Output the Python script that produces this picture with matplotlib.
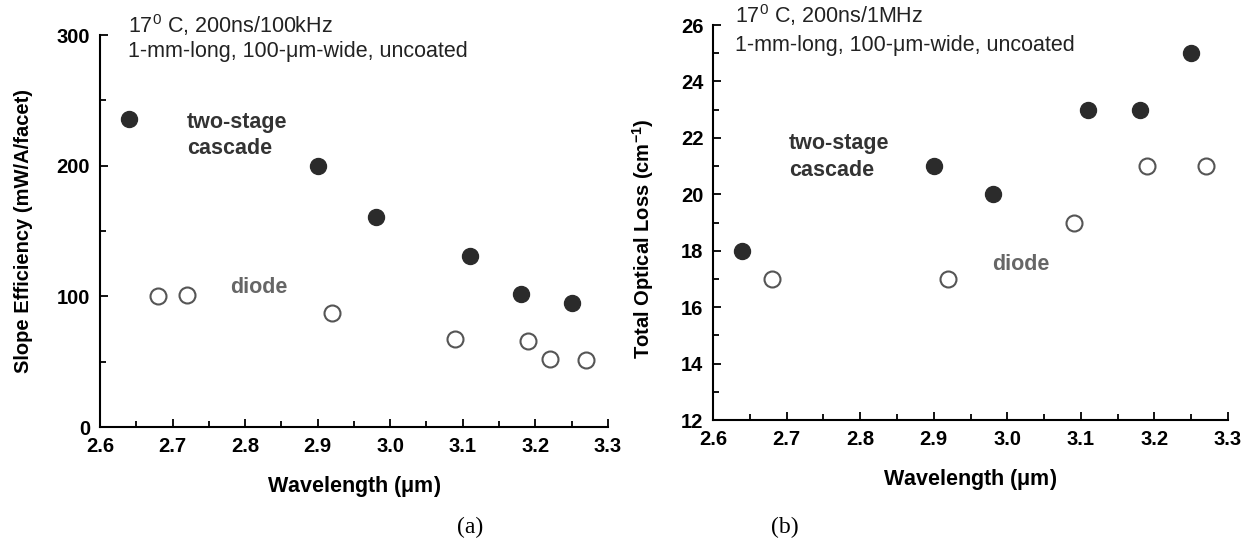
"""Slope efficiency and optical loss vs wavelength, cascade vs diode."""

import matplotlib
matplotlib.use("Agg")
import matplotlib.pyplot as plt
from matplotlib.ticker import MultipleLocator

plt.rcParams["font.family"] = ["Liberation Sans", "DejaVu Sans"]
plt.rcParams["mathtext.fontset"] = "custom"
plt.rcParams["mathtext.rm"] = "Liberation Sans"
plt.rcParams["mathtext.bf"] = "Liberation Sans:bold"

# panel (a): slope efficiency (mW/A/facet)
wl_cascade_a = [2.64, 2.90, 2.98, 3.11, 3.18, 3.25]
se_cascade = [236, 200, 161, 131, 102, 95]
wl_diode_a = [2.68, 2.72, 2.92, 3.09, 3.19, 3.22, 3.27]
se_diode = [100, 101, 87, 67, 66, 52, 51]

# panel (b): total optical loss (cm^-1)
wl_cascade_b = [2.64, 2.90, 2.98, 3.11, 3.18, 3.25]
loss_cascade = [18, 21, 20, 23, 23, 25]
wl_diode_b = [2.68, 2.92, 3.09, 3.19, 3.27]
loss_diode = [17, 17, 19, 21, 21]

FILL = "#2b2b2b"
OPEN = "#555555"


def style_axes(ax, ymaj, ymin):
    for s in ("top", "right"):
        ax.spines[s].set_visible(False)
    for s in ("left", "bottom"):
        ax.spines[s].set_linewidth(1.5)
    ax.xaxis.set_major_locator(MultipleLocator(0.1))
    ax.xaxis.set_minor_locator(MultipleLocator(0.05))
    ax.yaxis.set_major_locator(MultipleLocator(ymaj))
    ax.yaxis.set_minor_locator(MultipleLocator(ymin))
    ax.tick_params(which="both", direction="in", width=1.3, labelsize=14.5)
    ax.tick_params(axis="x", which="major", pad=7.5)
    ax.tick_params(axis="y", which="major", pad=7)
    ax.tick_params(which="major", length=6)
    ax.tick_params(which="minor", length=4)
    for lab in ax.get_xticklabels() + ax.get_yticklabels():
        lab.set_fontweight("bold")
    ax.set_xlim(2.6, 3.3)
    ax.xaxis.set_major_formatter(plt.FuncFormatter(lambda v, p: f"{v:.1f}"))


def scatter(ax, x1, y1, x2, y2):
    ax.plot(x1, y1, "o", ms=11.5, mfc=FILL, mec=FILL, ls="none", clip_on=False)
    ax.plot(x2, y2, "o", ms=11.5, mfc="white", mec=OPEN, mew=1.5, ls="none",
            clip_on=False)


fig = plt.figure(figsize=(12.51, 5.52), dpi=100)
ax1 = fig.add_axes([0.0799, 0.2264, 0.406, 0.710])
ax2 = fig.add_axes([0.570, 0.2391, 0.4116, 0.7156])

# --- (a) ---
scatter(ax1, wl_cascade_a, se_cascade, wl_diode_a, se_diode)
ax1.set_ylim(0, 300)
style_axes(ax1, 100, 50)
ax1.yaxis.set_major_formatter(plt.FuncFormatter(lambda v, p: f"{v:.0f}"))
ax1.set_ylabel("Slope Efficiency (mW/A/facet)", fontsize=14.5, fontweight="bold")
ax1.yaxis.set_label_coords(-0.131, 0.5)
ax1.set_xlabel("Wavelength ($\\mathbf{\\mu}$m)", fontsize=15.5, fontweight="bold",
               labelpad=13)
ax1.text(0.055, 1.025, "17$^{0}$ C, 200ns/100kHz", transform=ax1.transAxes,
         fontsize=15.5, va="center", color="#222222")
ax1.text(0.055, 0.957, "1-mm-long, 100-μm-wide, uncoated", transform=ax1.transAxes,
         fontsize=15.5, va="center", color="#222222")
ax1.text(2.72, 233, "two-stage", fontsize=15.5, fontweight="bold", color="#333333",
         va="center")
ax1.text(2.72, 213, "cascade", fontsize=15.5, fontweight="bold", color="#333333",
         va="center")
ax1.text(2.779, 107, "diode", fontsize=15.5, fontweight="bold", color="#666666",
         va="center")

# --- (b) ---
scatter(ax2, wl_cascade_b, loss_cascade, wl_diode_b, loss_diode)
ax2.set_ylim(12, 26)
style_axes(ax2, 2, 1)
ax2.yaxis.set_major_formatter(plt.FuncFormatter(lambda v, p: f"{v:.0f}"))
ax2.set_ylabel("Total Optical Loss (cm$^{\\mathbf{-1}}$)", fontsize=14.5,
               fontweight="bold")
ax2.yaxis.set_label_coords(-0.110, 0.458)
ax2.set_xlabel("Wavelength ($\\mathbf{\\mu}$m)", fontsize=15.5, fontweight="bold",
               labelpad=13)
ax2.text(0.043, 1.025, "17$^{0}$ C, 200ns/1MHz", transform=ax2.transAxes,
         fontsize=15.5, va="center", color="#222222")
ax2.text(0.043, 0.949, "1-mm-long, 100-μm-wide, uncoated", transform=ax2.transAxes,
         fontsize=15.5, va="center", color="#222222")
ax2.text(2.703, 21.8, "two-stage", fontsize=15.5, fontweight="bold", color="#333333",
         va="center")
ax2.text(2.703, 20.86, "cascade", fontsize=15.5, fontweight="bold", color="#333333",
         va="center")
ax2.text(2.98, 17.5, "diode", fontsize=15.5, fontweight="bold", color="#666666",
         va="center")

fig.text(470 / 1251, 1 - 527 / 552, "(a)", fontsize=17, family="Liberation Serif",
         ha="center", va="center")
fig.text(785 / 1251, 1 - 527 / 552, "(b)", fontsize=17, family="Liberation Serif",
         ha="center", va="center")

fig.savefig("out.png", dpi=100)
